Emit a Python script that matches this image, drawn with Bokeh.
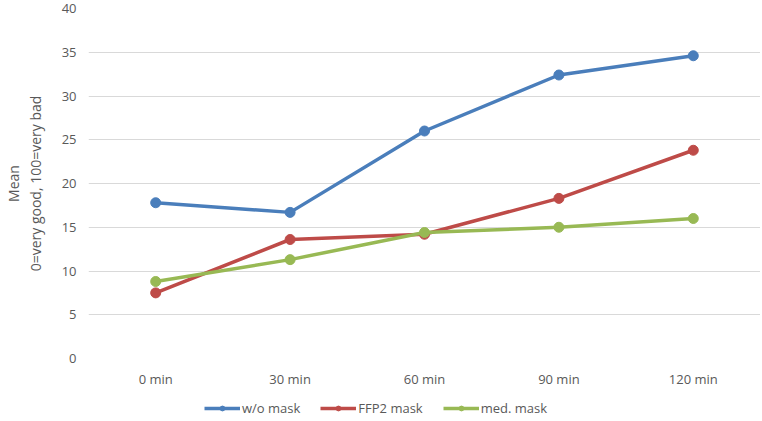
from bokeh.plotting import figure
from bokeh.layouts import column
from bokeh.models import FactorRange, Legend, LegendItem, LinearAxis
from bokeh.embed import file_html
from bokeh.resources import INLINE

categories = ["0 min", "30 min", "60 min", "90 min", "120 min"]
wo_mask = [17.8, 16.7, 26.0, 32.4, 34.6]
ffp2_mask = [7.5, 13.6, 14.2, 18.3, 23.8]
med_mask = [8.8, 11.3, 14.4, 15.0, 16.0]
series_names = ["w/o mask", "FFP2 mask", "med. mask"]
y_ticks = [0, 5, 10, 15, 20, 25, 30, 35, 40]
y_title_1 = "Mean"
y_title_2 = "0=very good, 100=very bad"

colors = ["#4A7EBB", "#BE4B48", "#98B954"]
FONT = "Open Sans"
TXT = "#595959"
W = 760

p = figure(x_range=FactorRange(*categories), y_range=(0, 40),
           width=W, height=390, output_backend="svg", toolbar_location=None,
           min_border_top=8, min_border_left=80, min_border_right=0, min_border_bottom=31)
p.outline_line_color = None
p.background_fill_color = "white"
p.border_fill_color = "white"

all_series = [wo_mask, ffp2_mask, med_mask]
for name, vals, c in zip(series_names, all_series, colors):
    p.line(categories, vals, line_color=c, line_width=3.5)
    p.scatter(categories, vals, size=10, fill_color=c, line_color=c)

p.yaxis.ticker = y_ticks
p.yaxis.axis_line_color = None
p.yaxis.major_tick_out = 0
p.yaxis.major_tick_in = 0
p.yaxis.minor_tick_line_color = None
p.yaxis.major_label_text_font = FONT
p.yaxis.major_label_text_font_size = "13px"
p.yaxis.major_label_text_color = TXT
p.yaxis.major_label_standoff = 12
p.yaxis.axis_label = y_title_2
p.yaxis.axis_label_text_font = FONT
p.yaxis.axis_label_text_font_style = "normal"
p.yaxis.axis_label_text_font_size = "14px"
p.yaxis.axis_label_text_color = TXT
p.yaxis.axis_label_standoff = 14

ax2 = LinearAxis(axis_label=y_title_1, ticker=[], axis_line_color=None,
                 major_tick_out=0, major_tick_in=0, minor_tick_out=0, minor_tick_in=0,
                 major_label_text_font_size="0px", major_label_standoff=0,
                 axis_label_text_font=FONT, axis_label_text_font_style="normal",
                 axis_label_text_font_size="14px", axis_label_text_color=TXT,
                 axis_label_standoff=0)
p.add_layout(ax2, "left")

p.xaxis.axis_line_color = None
p.xaxis.major_tick_out = 0
p.xaxis.major_tick_in = 0
p.xaxis.minor_tick_line_color = None
p.xaxis.major_label_text_font = FONT
p.xaxis.major_label_text_font_size = "13px"
p.xaxis.major_label_text_color = TXT
p.xaxis.major_label_standoff = 11

p.xgrid.grid_line_color = None
p.ygrid.grid_line_color = "#D9D9D9"
p.ygrid.grid_line_width = 1.2

# legend strip: same series drawn outside its visible range, only the legend shows
pl = figure(x_range=FactorRange(*categories), y_range=(1000, 1001),
            width=W, height=28, output_backend="svg", toolbar_location=None,
            x_axis_location=None, y_axis_location=None,
            min_border=0)
pl.outline_line_color = None
pl.xgrid.grid_line_color = None
pl.ygrid.grid_line_color = None
items = []
for name, vals, c in zip(series_names, all_series, colors):
    l = pl.line(categories, vals, line_color=c, line_width=3.5)
    s = pl.scatter(categories, vals, size=9, fill_color=c, line_color=c)
    items.append(LegendItem(label=name, renderers=[l, s]))

legend = Legend(items=items, orientation="horizontal", location=(116, 1),
                label_text_font=FONT, label_text_font_size="13px", label_text_color=TXT,
                glyph_width=36, glyph_height=12, spacing=20, label_standoff=2,
                border_line_color=None, background_fill_alpha=0, padding=4, margin=0)
pl.add_layout(legend)

open("out.html", "w").write(file_html(column(p, pl, spacing=0), INLINE))
